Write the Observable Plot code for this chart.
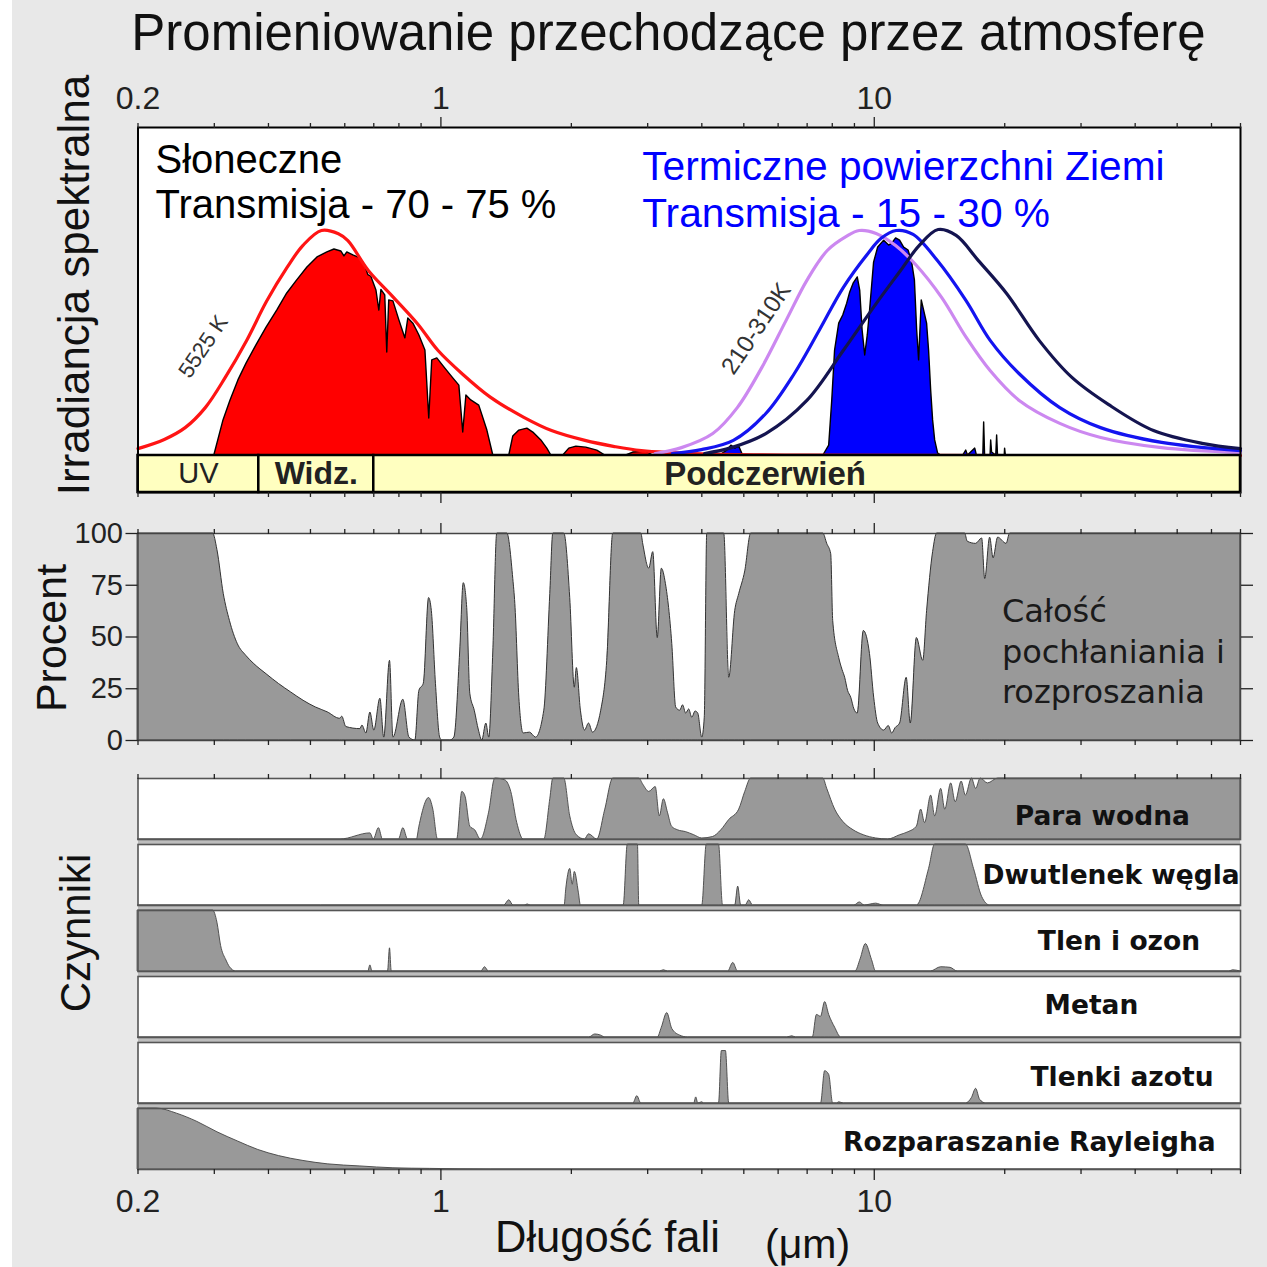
<!DOCTYPE html>
<html lang="pl">
<head>
<meta charset="utf-8">
<title>Promieniowanie przechodzące przez atmosferę</title>
<script src="https://cdn.jsdelivr.net/npm/d3@7"></script>
<script src="https://cdn.jsdelivr.net/npm/@observablehq/plot@0.6"></script>
<style>
  html, body { margin: 0; padding: 0; background: #fff; }
  #chart { position: relative; width: 1267px; height: 1267px; overflow: hidden;
    background: linear-gradient(to right, #fff 0 12px, #e8e8e8 12px); }
  #chart > svg { position: absolute; left: 0; }
  #strip-gap { position: absolute; background: #bdbdbd; }
</style>
</head>
<body>
<div id="chart"></div>
<script>
// ---------- data: wavelength (µm), value ----------
// Top panel: spectral irradiance in relative units (0–100 of panel height)
const bb5525 = [[0.2,2.1],[0.23,4.9],[0.257,8.5],[0.286,14.6],[0.318,23.8],[0.356,35],[0.396,47],[0.442,57.4],[0.48,64],[0.53,68.6],[0.58,67.6],[0.61,65.5],[0.68,56.4],[0.776,48.3],[0.884,40.1],[0.985,32],[1.12,24.9],[1.3,17.8],[1.55,11.7],[1.8,7.6],[2.15,4.6],[2.5,2.8],[2.9,1.5],[4,0.5],[7,0.1],[70,0]];
const bb310 = [[3.12,0.6],[3.59,2.4],[4.24,6.7],[4.83,14.6],[5.5,26.8],[6.26,41.2],[6.99,53.4],[7.79,62.5],[8.62,66.8],[9.23,68.6],[10.1,67.7],[11.2,64],[12.5,58],[14.3,48.2],[16.3,36],[18.5,25.9],[21.6,16.8],[26.8,9.8],[33.3,5.5],[46,2.4],[70,0.9]];
const bb260 = [[3.42,0.6],[3.99,1.8],[4.73,4.6],[5.62,12.8],[6.54,25],[7.46,38.1],[8.48,51.2],[9.67,61.6],[10.37,66.2],[11.23,68.6],[12.29,67.4],[13.97,59.5],[16.27,47.3],[18.51,35.1],[21.57,25],[26.79,14.6],[33.27,8.5],[46.04,4],[70,1.5]];
const bb210 = [[4.06,0.6],[4.68,2.4],[5.62,6.7],[6.99,16.8],[8.48,32],[10.1,46.3],[11.5,56.4],[12.69,64],[14.04,68.9],[15.45,67.1],[17.37,59.5],[20.2,49.4],[24.01,35.1],[28.58,23.8],[34.75,15.5],[44.09,7.6],[57.07,3.7],[70,2.1]];
const solarSpectrum = [[0.2,0],[0.30,0],[0.315,10.7],[0.327,16.8],[0.341,22.9],[0.356,28],[0.375,33.5],[0.396,39],[0.419,44.2],[0.442,49.4],[0.466,53.4],[0.492,57.3],[0.519,60.4],[0.547,61.9],[0.568,62.8],[0.589,62.2],[0.599,60.7],[0.608,61.9],[0.628,61],[0.652,60.1],[0.669,57.9],[0.68,55],[0.691,54.5],[0.71,50.3],[0.721,44.2],[0.729,50.5],[0.744,48.8],[0.752,31.4],[0.76,47.3],[0.777,47],[0.802,41.2],[0.828,35.7],[0.841,41.8],[0.864,40.2],[0.892,36.6],[0.921,32],[0.94,11.3],[0.955,29],[0.981,29.6],[1.024,26.5],[1.068,23.5],[1.103,21.3],[1.126,7],[1.145,18.3],[1.175,16.8],[1.226,15.2],[1.28,7.6],[1.321,0],[1.438,0],[1.469,5.8],[1.517,7.6],[1.583,8.2],[1.634,7],[1.705,4.6],[1.76,2.1],[1.798,0],[1.916,0],[1.978,2.1],[2.054,2.7],[2.165,2.4],[2.295,1.5],[2.395,0],[2.677,0],[2.778,0.9],[2.977,1.2],[3.09,0],[70,0]];
const thermalSpectrum = [[4.4,0],[4.58,1.5],[4.68,3],[4.78,2.1],[4.88,2.7],[4.98,0],[7.63,0],[7.87,3],[8.0,16.8],[8.12,32],[8.3,40.2],[8.48,42.7],[8.66,46.3],[8.8,49.7],[8.96,52.4],[9.16,54.3],[9.28,50.3],[9.4,38.1],[9.53,30.5],[9.66,36.6],[9.78,44.2],[9.99,58.8],[10.21,63.4],[10.54,65.5],[10.82,64],[11.0,64.6],[11.23,66.2],[11.47,65.5],[11.72,63.4],[12.0,62.5],[12.23,58.8],[12.41,53.4],[12.56,38.1],[12.69,29],[12.87,47.3],[13.03,44.2],[13.24,40.2],[13.38,32],[13.53,19.8],[13.67,10.7],[13.82,4.6],[14.04,0.6],[14.27,0],[16.04,0],[16.3,1.5],[16.45,0],[17.1,2.1],[17.25,0],[17.85,0],[17.93,10.1],[18.02,0],[18.55,0],[18.61,4.6],[18.7,0.9],[19.12,0],[19.21,6.1],[19.3,0],[20.0,0],[20.04,2.1],[20.12,0],[70,0]];
const bands = [{name: "UV", from: 0.2, to: 0.38}, {name: "Widz.", from: 0.38, to: 0.7}, {name: "Podczerwień", from: 0.7, to: 70}];

// Middle panel: total absorption and scattering (%)
const totalAbsorption = [[0.2,100],[0.298,100],[0.305,92],[0.3155,70.7],[0.326,57.7],[0.34,46.5],[0.3555,40.9],[0.371,36.9],[0.396,32],[0.423,27.3],[0.4513,23.2],[0.482,19.2],[0.514,16],[0.548,13.6],[0.5853,10.5],[0.592,11.5],[0.605,6.5],[0.652,5.5],[0.659,7.2],[0.673,3.4],[0.6875,13.5],[0.702,4.8],[0.725,20.2],[0.74,1.4],[0.763,38.5],[0.777,1.4],[0.819,19.7],[0.846,1.4],[0.873,0],[0.892,24],[0.913,27.4],[0.939,68.8],[0.953,62.5],[0.974,27.4],[0.996,1.4],[1.007,0],[1.051,0],[1.074,1.4],[1.108,43],[1.129,76],[1.15,64],[1.169,22.6],[1.197,14.4],[1.224,4.8],[1.246,0],[1.273,8.2],[1.293,1.4],[1.321,43],[1.349,100],[1.423,100],[1.469,78],[1.485,66],[1.517,20.7],[1.552,3.4],[1.605,3.8],[1.657,1.4],[1.732,14.4],[1.788,70.7],[1.817,100],[1.926,100],[1.988,68.8],[2.037,25.5],[2.059,35],[2.104,14.4],[2.15,4.8],[2.197,8.2],[2.244,3.8],[2.344,14.4],[2.42,38.5],[2.499,100],[2.9,100],[2.931,94.7],[3.025,83],[3.09,91],[3.165,49.5],[3.234,83],[3.306,75.5],[3.419,46.6],[3.491,15.9],[3.567,14.4],[3.62,17],[3.682,13],[3.74,15],[3.802,11],[3.87,14],[3.925,13],[4.009,1.4],[4.063,11],[4.117,100],[4.506,100],[4.627,30.3],[4.776,62.5],[4.879,70.7],[5.038,81.7],[5.2,100],[7.626,100],[7.788,95],[7.955,90],[8.04,57.7],[8.299,39.9],[8.45,34],[8.568,30.3],[8.7,24],[8.846,20.7],[9.0,15],[9.156,13],[9.458,52.9],[9.775,41.8],[9.995,20.7],[10.21,8.2],[10.54,4.8],[10.8,7],[11.0,3.4],[11.2,6],[11.47,8.2],[11.88,30.3],[12.14,8.2],[12.54,49.5],[12.97,38.5],[13.24,62.5],[13.67,91],[13.97,100],[16.2,100],[16.44,96],[17.18,95],[17.74,97.6],[18.03,78],[18.51,98],[18.85,88],[19.31,98],[20.2,95],[20.58,100],[70,100]];

// Bottom panels: individual absorbers (%)
const waterVapour = [[0.2,0],[0.5866,0],[0.6875,10],[0.70,0],[0.7194,18.6],[0.735,0],[0.80,0],[0.819,18.6],[0.84,0],[0.88,0],[0.892,21],[0.939,68],[0.9605,49],[0.9847,0],[1.09,0],[1.1205,78],[1.14,70],[1.169,21],[1.2,15],[1.2366,0],[1.2918,44],[1.3349,100],[1.4078,97],[1.4533,78],[1.5003,27],[1.552,0],[1.732,0],[1.788,66],[1.817,100],[1.926,100],[1.988,38],[2.059,7],[2.15,0],[2.197,8.5],[2.295,0],[2.395,49],[2.499,100],[2.869,100],[2.931,89.8],[3.025,78],[3.131,86],[3.2,38],[3.27,66],[3.341,44],[3.415,21],[3.528,15],[3.682,12],[3.842,7],[4.009,1.7],[4.242,4],[4.435,15],[4.627,32],[4.879,49],[5.038,78],[5.2,100],[7.626,100],[7.788,83],[8.124,49],[8.479,29],[8.964,15],[9.458,7],[10.1,1.7],[10.77,0],[11.47,7],[12.0,12],[12.54,21],[12.83,49],[13.1,27],[13.53,72],[13.82,38],[14.27,83],[14.58,49],[15.05,92],[15.41,61],[15.91,95],[16.27,72],[16.8,100],[17.18,83],[17.6,100],[18.3,92],[19.31,100],[70,100]];
const carbonDioxide = [[0.2,0],[1.40,0],[1.438,8.6],[1.47,0],[1.56,0],[1.586,1.7],[1.61,0],[1.93,0],[1.946,26],[1.988,60],[2.014,34],[2.037,55],[2.081,21],[2.104,0],[2.641,0],[2.699,100],[2.849,100],[2.869,0],[4.009,0],[4.106,100],[4.383,100],[4.477,0],[4.776,0],[4.853,31],[4.931,0],[5.05,0],[5.145,8.6],[5.25,0],[9.0,0],[9.259,5],[9.5,0],[10.1,3],[10.5,0],[12.54,0],[13.38,60],[13.82,100],[16.27,100],[16.99,60],[17.74,14],[18.51,0],[70,0]];
const oxygenOzone = [[0.2,100],[0.298,100],[0.305,80],[0.311,42],[0.32,18],[0.326,7],[0.337,0],[0.68,0],[0.6875,10],[0.695,0],[0.755,0],[0.763,38],[0.77,0],[1.24,0],[1.264,7],[1.29,0],[3.2,0],[3.27,2],[3.34,0],[4.6,0],[4.727,14],[4.85,0],[9.05,0],[9.3,20],[9.563,45],[9.879,19],[10.1,0],[13.5,0],[14.27,7],[15.0,6],[15.57,0],[66,0],[67.3,2],[70,0]];
const methane = [[0.2,0],[2.199,0],[2.271,5],[2.344,3],[2.395,0],[3.165,0],[3.234,16],[3.329,40],[3.419,14],[3.567,3],[3.721,0],[6.3,0],[6.465,2],[6.6,0],[7.214,0],[7.373,37],[7.535,34],[7.701,58],[7.87,37],[8.124,16],[8.389,0],[70,0]];
const nitrogenOxides = [[0.2,0],[2.78,0],[2.839,12],[2.9,0],[3.842,0],[3.883,10],[3.925,0],[4.009,2],[4.05,0],[4.383,0],[4.449,86],[4.547,86],[4.627,0],[7.535,0],[7.701,53],[7.87,47],[8.038,0],[8.2,0],[8.3,2],[8.5,0],[16.27,0],[16.8,9],[17.18,24],[17.55,6],[18.13,0],[70,0]];
const rayleigh = [[0.2,100],[0.2206,100],[0.246,91.5],[0.2742,78],[0.305,61],[0.34,46],[0.379,32],[0.423,22],[0.4817,14],[0.548,8.5],[0.652,5],[0.777,2],[0.943,1],[1.307,0],[70,0]];
const factorNames = ["Para wodna", "Dwutlenek węgla", "Tlen i ozon", "Metan", "Tlenki azotu", "Rozparaszanie Rayleigha"];
const factorSeries = [waterVapour, carbonDioxide, oxygenOzone, methane, nitrogenOxides, rayleigh];

// x-axis ticks (µm)
const minorTicks = [0.2, 0.3, 0.4, 0.5, 0.6, 0.7, 0.8, 0.9, 2, 3, 4, 5, 6, 7, 8, 9, 20, 30, 40, 50, 60, 70];
const majorTicks = [1, 10];
const labelTicks = [0.2, 1, 10, 70];
const percentTicks = [0, 25, 50, 75, 100];

// ---------- layout ----------
const chart = document.getElementById("chart");
const W = 1267, ML = 137.5, MR = 27;
const sans = "'Liberation Sans', Arial, sans-serif";
const svgStyle = {background: "transparent", overflow: "visible", color: "#222", fontFamily: sans};
const X = {type: "log", domain: [0.2, 70]};
const px = d => d[0], py = d => d[1];
const blank = () => "";

function tickMarks(anchor) {
  return [
    Plot.axisX({anchor, ticks: minorTicks, tickSize: 5, tickFormat: blank, label: null, strokeWidth: 1.3}),
    Plot.axisX({anchor, ticks: majorTicks, tickSize: 11, tickFormat: blank, label: null, strokeWidth: 1.3})
  ];
}
function tickLabels(anchor, pad) {
  return Plot.axisX({anchor, ticks: labelTicks, tickSize: 0, tickPadding: pad, tickFormat: d => String(d), fontSize: 32, label: null});
}
function place(svg, top) {
  svg.style.top = top + "px";
  chart.appendChild(svg);
}

// ---------- top panel: irradiance ----------
const bandFloor = -11.28; // the yellow spectral-range band sits below zero irradiance
const irradiance = Plot.plot({
  width: W, height: 460, marginTop: 67, marginBottom: 28, marginLeft: ML, marginRight: MR,
  x: X, y: {domain: [bandFloor, 100], axis: null}, style: svgStyle,
  marks: [
    Plot.frame({fill: "white"}),
    Plot.areaY(solarSpectrum, {x: px, y: py, fill: "#ff0000", stroke: "#000", strokeWidth: 1.4}),
    Plot.areaY(thermalSpectrum, {x: px, y: py, fill: "#0000ff", stroke: "#000", strokeWidth: 1.4}),
    Plot.line(bb5525, {x: px, y: py, stroke: "#ff1414", strokeWidth: 3.2, curve: "catmull-rom"}),
    Plot.line(bb310, {x: px, y: py, stroke: "#cc88f0", strokeWidth: 3.2, curve: "catmull-rom"}),
    Plot.line(bb260, {x: px, y: py, stroke: "#1414f0", strokeWidth: 3.2, curve: "catmull-rom"}),
    Plot.line(bb210, {x: px, y: py, stroke: "#141450", strokeWidth: 3.2, curve: "catmull-rom"}),
    Plot.rect(bands, {x1: "from", x2: "to", y1: bandFloor, y2: 0, fill: "#ffffc0", stroke: "#000", strokeWidth: 2.5}),
    Plot.text(bands.filter(b => b.name === "UV"), {x: b => Math.sqrt(b.from * b.to), y: bandFloor / 2, text: "name", fontSize: 29, fill: "#222"}),
    Plot.text(bands.filter(b => b.name === "Widz."), {x: b => Math.sqrt(b.from * b.to), y: bandFloor / 2, text: "name", fontSize: 32, fontWeight: "bold", fill: "#222"}),
    Plot.text(bands.filter(b => b.name === "Podczerwień"), {x: () => 5.6, y: bandFloor / 2, text: "name", fontSize: 33, fontWeight: "bold", fill: "#222"}),
    Plot.frame({stroke: "#000", strokeWidth: 2}),
    ...tickMarks("top"), ...tickMarks("bottom"), tickLabels("top", 19),
    Plot.text(["5525 K"], {x: () => 0.283, y: () => 33.2, rotate: -56, fontSize: 22, fill: "#333"}),
    Plot.text(["210-310K"], {x: () => 5.34, y: () => 38.7, rotate: -56, fontSize: 24, fill: "#333"}),
    Plot.text(["Słoneczne\nTransmisja - 70 - 75 %"], {frameAnchor: "top-left", dx: 17.5, dy: 13, textAnchor: "start", lineAnchor: "top", fontSize: 40, lineHeight: 1.13, fill: "#000"}),
    Plot.text(["Termiczne powierzchni Ziemi\nTransmisja - 15 - 30 %"], {x: () => 2.915, frameAnchor: "top", dy: 19, textAnchor: "start", lineAnchor: "top", fontSize: 40.7, lineHeight: 1.16, fill: "#0000ff"})
  ]
});
place(irradiance, 60);

// ---------- middle panel: total absorption ----------
const total = Plot.plot({
  width: W, height: 263, marginTop: 28, marginBottom: 28, marginLeft: ML, marginRight: MR,
  x: X, y: {domain: [0, 100]}, style: svgStyle,
  marks: [
    Plot.frame({fill: "white"}),
    Plot.areaY(totalAbsorption, {x: px, y: py, fill: "#999", stroke: "#333", strokeWidth: 1, curve: "monotone-x"}),
    Plot.frame({stroke: "#444", strokeWidth: 1.5}),
    Plot.axisY({anchor: "left", ticks: percentTicks, tickSize: 12, tickPadding: 3, fontSize: 29, label: null, strokeWidth: 1.3}),
    Plot.axisY({anchor: "right", ticks: percentTicks, tickSize: 12, tickFormat: blank, label: null, strokeWidth: 1.3}),
    ...tickMarks("top"), ...tickMarks("bottom"),
    Plot.text(["Całość\npochłaniania i\nrozproszania"], {x: () => 19.7, y: () => 44, textAnchor: "start", lineAnchor: "middle", fontSize: 32, lineHeight: 1.28, fontFamily: "DejaVu Sans", fill: "#1a1a1a"})
  ]
});
place(total, 505);

// ---------- bottom panels: individual absorbers ----------
const stripTop = 778, stripHeight = 392;
const gap = document.createElement("div");
gap.id = "strip-gap";
Object.assign(gap.style, {left: ML + "px", top: stripTop + "px", width: (W - ML - MR) + "px", height: stripHeight + "px"});
chart.appendChild(gap);

const factorRows = factorNames.flatMap((name, i) => factorSeries[i].map(d => ({name, x: d[0], y: d[1]})));
const labelAt = [33.6, 35.2, 36.7, 31.7, 37.3, 22.8];   // label centres, µm
const labelLevel = [37, 49, 49, 52, 42, 45];           // label heights within each strip
const factorLabels = factorNames.map((name, i) => ({name, at: labelAt[i], level: labelLevel[i]}));

const strips = Plot.plot({
  width: W, height: 485, marginTop: stripTop - 740, marginBottom: 485 - (stripTop - 740) - stripHeight, marginLeft: ML, marginRight: MR,
  x: X, y: {domain: [0, 100], axis: null},
  fy: {domain: factorNames, paddingInner: 0.0756, paddingOuter: 0, axis: null, label: null},
  style: svgStyle,
  marks: [
    Plot.frame({fill: "white"}),
    Plot.areaY(factorRows, {x: "x", y: "y", fy: "name", fill: "#999", stroke: "#444", strokeWidth: 0.9, curve: "monotone-x"}),
    Plot.frame({stroke: "#555", strokeWidth: 1.6}),
    Plot.text(factorLabels, {fy: "name", x: "at", y: "level", text: "name", fontSize: 26.5, fontWeight: "bold", fontFamily: "DejaVu Sans", fill: "#111"}),
    ...tickMarks("top"), ...tickMarks("bottom"), tickLabels("bottom", 20)
  ]
});
place(strips, 740);

// ---------- titles ----------
const overlay = d3.create("svg").attr("width", W).attr("height", W)
  .style("top", "0px").style("pointer-events", "none").style("font-family", sans);
overlay.append("text").attr("x", 668.5).attr("y", 50).attr("text-anchor", "middle")
  .attr("font-size", 51).attr("fill", "#111").text("Promieniowanie przechodzące przez atmosferę");
const yTitle = (text, x, y, size) => overlay.append("text")
  .attr("transform", `translate(${x},${y}) rotate(-90)`).attr("text-anchor", "middle")
  .attr("font-size", size).attr("fill", "#111").text(text);
yTitle("Irradiancja spektralna", 89, 285, 44);
yTitle("Procent", 66, 638, 43);
yTitle("Czynniki", 90, 933, 42);
overlay.append("text").attr("x", 495).attr("y", 1252).attr("font-size", 43.5).attr("fill", "#111").text("Długość fali");
overlay.append("text").attr("x", 765).attr("y", 1258).attr("font-size", 41).attr("fill", "#111").text("(μm)");
chart.appendChild(overlay.node());
</script>
</body>
</html>
